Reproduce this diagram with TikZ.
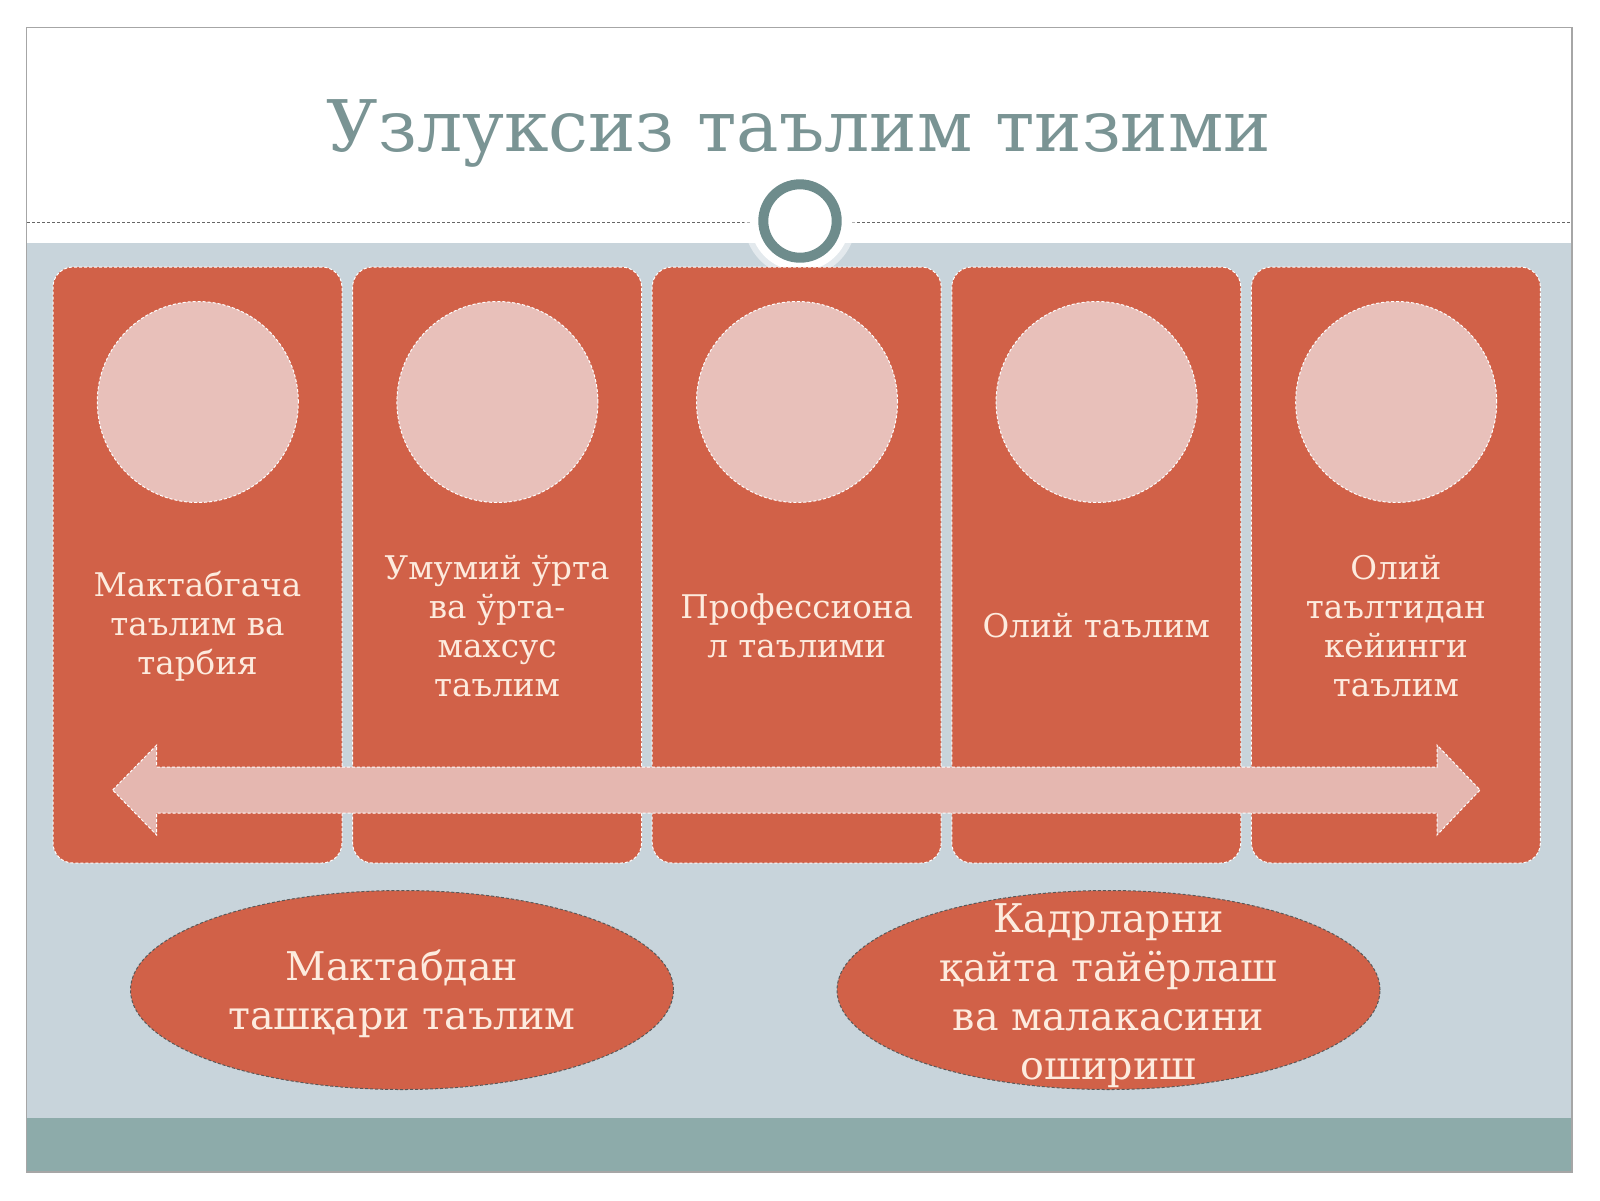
\documentclass[tikz,border=0pt]{standalone}
\usepackage{fontspec}
\setmainfont{DejaVu Serif}
\usetikzlibrary{positioning, shapes.geometric}

\definecolor{bandbg}{HTML}{C8D4DB}
\definecolor{footteal}{HTML}{8DABAA}
\definecolor{boxred}{HTML}{D16148}
\definecolor{discpink}{HTML}{E8C0BA}
\definecolor{arrowpink}{HTML}{E5B7B0}
\definecolor{titlegray}{HTML}{7A9494}
\definecolor{ringgray}{HTML}{6E8C8C}
\definecolor{creamtxt}{HTML}{FDEBDE}

\begin{document}
\begin{tikzpicture}[x=0.5pt, y=-0.5pt,
    stagebox/.style={draw=white, dash pattern=on 1.5pt off 1pt, line width=0.5pt, fill=boxred,
        rounded corners=10pt, minimum width=144.5pt, minimum height=298pt, inner sep=0pt},
    disc/.style={circle, draw=white, dash pattern=on 1.5pt off 1pt, line width=0.5pt, fill=discpink,
        minimum size=100.5pt, inner sep=0pt},
    stagetxt/.style={align=center, text=creamtxt, font=\fontsize{16.3}{19.5}\selectfont},
    oval/.style={ellipse, draw=gray!70!black, dash pattern=on 1.5pt off 1pt, line width=0.5pt,
        fill=boxred, minimum width=271.5pt, minimum height=99.5pt, inner sep=0pt},
    ovaltxt/.style={align=center, text=creamtxt, font=\fontsize{19.8}{24.5}\selectfont}]
    \useasboundingbox (0,0) rectangle (1600,1200);
    % slide background
    \fill[white] (26.5,27.5) rectangle (1572,1172);
    \fill[bandbg] (26.5,243) rectangle (1572,1117.5);
    \fill[footteal] (26.5,1117.5) rectangle (1572,1172);
    \draw[gray!70, line width=0.6pt] (26.5,27.5) rectangle (1572,1172);
    \draw[gray!80!black, dash pattern=on 1.5pt off 1pt, line width=0.4pt] (27,222) -- (1571,222);
    \node[anchor=base, text=titlegray, font=\fontsize{35.6}{40}\selectfont] (title) at (799,151) {Узлуксиз таълим тизими};
    % ring under title
    \fill[white, opacity=0.5] (800,221) circle (56);
    \node[circle, fill=white, minimum size=50pt, inner sep=0pt] (halo) at (800,221) {};
    \node[circle, draw=ringgray, line width=5pt, fill=white, minimum size=36.7pt, inner sep=0pt] (ring) at (800,221) {};

    % stages
    \foreach \i/\txt in {1/{Мактабгача\\таълим ва\\тарбия},
                         2/{Умумий ўрта\\ва ўрта-\\махсус\\таълим},
                         3/{Профессиона\\л таълими},
                         4/{Олий таълим},
                         5/{Олий\\таълтидан\\кейинги\\таълим}} {
        \node[stagebox] (box\i) at ({197.5+(\i-1)*299.6},565) {};
        \node[disc] (disc\i) at ({197.8+(\i-1)*299.6},402) {};
        \node[stagetxt] (lbl\i) at ({197.5+(\i-1)*299.6},626) {\txt};
    }

    % long arrow across the stages
    \draw[draw=white, dash pattern=on 1.5pt off 1pt, line width=0.5pt, fill=arrowpink]
        (112.7,790) -- (156.7,745) -- (156.7,767) -- (1437,767) -- (1437,745) -- (1480,790)
        -- (1437,835) -- (1437,813) -- (156.7,813) -- (156.7,835) -- cycle;

    % out-of-school and retraining
    \node[oval] (extra) at (402,990) {};
    \node[ovaltxt] (extratxt) at (402,994) {Мактабдан\\ташқари таълим};
    \node[oval] (retrain) at (1108.5,990) {};
    \node[ovaltxt] (retraintxt) at (1108.5,996) {Кадрларни\\қайта тайёрлаш\\ва малакасини\\ошириш};
\end{tikzpicture}
\end{document}
